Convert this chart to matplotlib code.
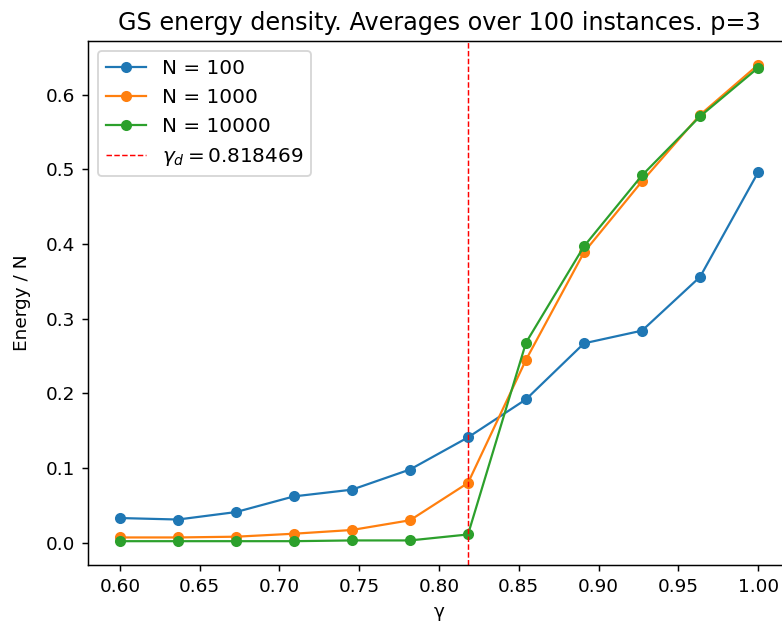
import matplotlib
matplotlib.use("Agg")
import matplotlib.pyplot as plt

# -- data --
gamma = [0.6, 0.63636, 0.67273, 0.70909, 0.74545, 0.78182,
         0.81818, 0.85455, 0.89091, 0.92727, 0.96364, 1.0]
energy_n100 = [0.033, 0.031, 0.041, 0.062, 0.071, 0.098,
               0.141, 0.192, 0.267, 0.284, 0.356, 0.496]
energy_n1000 = [0.007, 0.007, 0.008, 0.012, 0.017, 0.030,
                0.080, 0.245, 0.389, 0.484, 0.573, 0.640]
energy_n10000 = [0.002, 0.002, 0.002, 0.002, 0.003, 0.003,
                 0.011, 0.268, 0.397, 0.492, 0.571, 0.636]
gamma_d = 0.818469

# rendered at higher dpi so text and markers come out larger
dpi = 133
fig = plt.figure(figsize=(782 / dpi, 626 / dpi), dpi=dpi)
# right spine sits just past the image edge, like the original crop
ax = fig.add_axes([88 / 782, 61 / 626, 702 / 782, 524 / 626])

ax.plot(gamma, energy_n100, marker="o", markersize=5, lw=1.2, label="N = 100")
ax.plot(gamma, energy_n1000, marker="o", markersize=5, lw=1.2, label="N = 1000")
ax.plot(gamma, energy_n10000, marker="o", markersize=5, lw=1.2, label="N = 10000")
ax.axvline(gamma_d, color="red", ls="--", lw=0.8, label=r"$\gamma_d = 0.818469$")

ax.set_title("GS energy density. Averages over 100 instances. p=3", fontsize=12.9)
ax.set_xlabel("γ")
ax.set_ylabel("Energy / N", labelpad=8)
ax.set_xticks([0.60, 0.65, 0.70, 0.75, 0.80, 0.85, 0.90, 0.95, 1.00])
ax.legend(loc="upper left", fontsize=10.8)

fig.savefig("out.png", dpi=dpi)
